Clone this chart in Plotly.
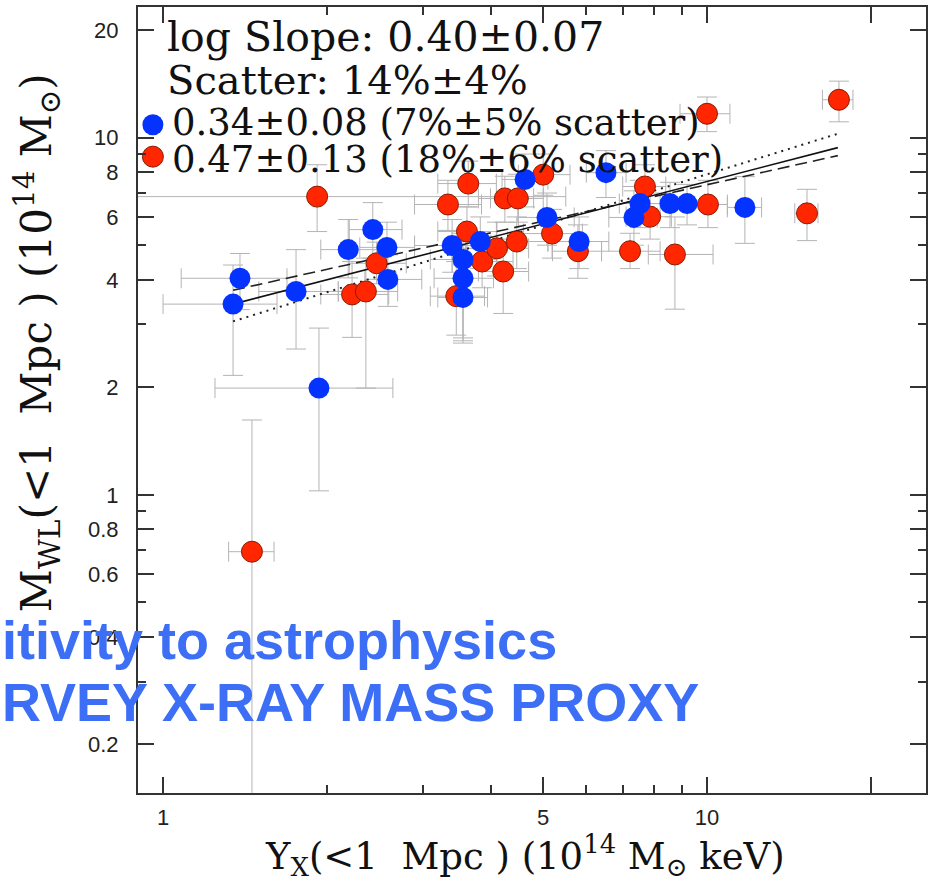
import plotly.graph_objects as go

# ---------------- data ----------------
blue_x   = [1.345, 1.385, 1.756, 1.935, 2.19, 2.43, 2.58, 2.59, 3.40, 3.56, 3.56, 3.56, 3.83, 4.63, 5.08, 5.82, 6.52, 7.34, 7.53, 8.55, 9.19, 11.74]
blue_y   = [3.42, 4.04, 3.71, 1.99, 4.86, 5.53, 4.93, 4.01, 4.99, 4.56, 4.04, 3.57, 5.12, 7.64, 5.98, 5.12, 7.98, 5.98, 6.54, 6.54, 6.54, 6.38]
blue_xlo = [1.00, 1.08, 1.50, 1.246, 1.95, 2.20, 2.30, 2.35, 2.90, 3.10, 3.15, 3.20, 3.40, 4.20, 4.50, 5.10, 6.00, 6.60, 6.90, 7.80, 8.50, 10.9]
blue_xhi = [1.62, 1.69, 2.10, 2.646, 2.50, 2.75, 2.90, 2.99, 4.00, 4.10, 4.05, 3.95, 4.30, 5.10, 5.70, 6.60, 7.10, 8.10, 8.20, 9.30, 9.90, 12.6]
blue_ylo = [2.16, 3.30, 2.56, 1.026, 4.05, 4.60, 4.20, 3.37, 4.20, 2.75, 2.70, 2.66, 4.30, 6.40, 5.00, 4.30, 6.80, 5.00, 5.60, 5.60, 5.70, 5.06]
blue_yhi = [4.40, 4.74, 4.86, 2.93, 5.90, 6.58, 5.80, 4.70, 5.90, 5.40, 4.90, 4.40, 6.00, 9.00, 7.00, 6.00, 9.20, 7.10, 7.60, 7.50, 7.40, 7.78]

red_x   = [1.457, 1.92, 2.226, 2.36, 2.47, 3.34, 3.64, 3.62, 3.46, 3.86, 4.11, 4.47, 4.22, 4.25, 4.49, 5.00, 5.19, 5.79, 7.69, 7.86, 7.22, 8.73, 10.04, 10.0, 15.27, 17.48]
red_y   = [0.693, 6.84, 3.64, 3.71, 4.45, 6.50, 7.44, 5.46, 3.60, 4.50, 4.90, 5.12, 4.22, 6.76, 6.76, 7.88, 5.39, 4.81, 7.30, 6.01, 4.81, 4.71, 6.50, 11.67, 6.14, 12.77]
red_xlo = [1.32, 0.70, 1.95, 2.10, 2.20, 2.90, 3.20, 3.20, 3.10, 3.40, 3.60, 3.90, 3.80, 3.80, 4.00, 4.50, 4.60, 5.20, 7.00, 7.10, 6.40, 7.80, 9.20, 8.92, 14.5, 16.3]
red_xhi = [1.60, 5.50, 2.60, 2.70, 2.80, 3.85, 4.10, 4.10, 3.90, 4.40, 4.70, 5.10, 4.70, 4.80, 5.00, 5.60, 5.90, 6.40, 8.40, 8.60, 8.20, 10.26, 10.9, 11.02, 16.0, 18.55]
red_ylo = [0.10, 5.46, 2.76, 1.99, 3.90, 5.50, 6.40, 4.60, 2.80, 3.80, 4.10, 4.30, 3.22, 5.80, 5.80, 6.90, 4.60, 4.04, 6.40, 5.20, 4.30, 3.31, 5.60, 10.4, 5.15, 11.08]
red_yhi = [1.62, 8.40, 4.50, 4.60, 5.10, 7.60, 8.60, 6.40, 4.50, 5.30, 5.80, 6.00, 5.20, 7.80, 7.90, 9.00, 6.30, 5.70, 8.40, 7.00, 5.40, 6.00, 7.60, 13.0, 7.17, 14.4]

fit_x    = [1.345, 17.4]
fit_all  = [3.42, 9.38]
fit_blue = [3.74, 8.91]
fit_red  = [3.06, 10.26]

key_x = [0.958]
key_blue_y = [10.87]
key_red_y = [8.85]

y_major = [0.2, 0.4, 0.6, 0.8, 1, 2, 4, 6, 8, 10, 20]
y_major_text = ["0.2", "0.4", "0.6", "0.8", "1", "2", "4", "6", "8", "10", "20"]
y_minor = [0.3, 0.5, 0.7, 0.9, 3, 5, 7, 9]
x_major = [1, 5, 10, 20]
x_major_text = ["1", "5", "10", " "]
x_minor = [2, 3, 4, 6, 7, 8, 9]

BLUE = "#0433ff"
RED = "#ff2600"
ERR = "#b4b4b4"


def plus_minus(v, lo, hi):
    return [h - a for a, h in zip(v, hi)], [a - l for a, l in zip(v, lo)]


fig = go.Figure()

# error bars (drawn below everything)
for xs, ys, xlo, xhi, ylo, yhi in [
    (red_x, red_y, red_xlo, red_xhi, red_ylo, red_yhi),
    (blue_x, blue_y, blue_xlo, blue_xhi, blue_ylo, blue_yhi),
]:
    px_, mx_ = plus_minus(xs, xlo, xhi)
    py_, my_ = plus_minus(ys, ylo, yhi)
    fig.add_trace(go.Scatter(
        x=xs, y=ys, mode="markers",
        marker=dict(size=1, opacity=0),
        error_x=dict(type="data", symmetric=False, array=px_, arrayminus=mx_,
                     color=ERR, thickness=1, width=10),
        error_y=dict(type="data", symmetric=False, array=py_, arrayminus=my_,
                     color=ERR, thickness=1, width=10),
        hoverinfo="skip", showlegend=False,
    ))

# fit lines
fig.add_trace(go.Scatter(x=fit_x, y=fit_red, mode="lines",
                         line=dict(color="#222", width=2, dash="2px,5px"), showlegend=False))
fig.add_trace(go.Scatter(x=fit_x, y=fit_blue, mode="lines",
                         line=dict(color="#222", width=1.6, dash="12px,6px"), showlegend=False))
fig.add_trace(go.Scatter(x=fit_x, y=fit_all, mode="lines",
                         line=dict(color="#111", width=1.6), showlegend=False))

# points
fig.add_trace(go.Scatter(x=red_x, y=red_y, mode="markers",
                         marker=dict(size=21, color=RED, line=dict(color="#8a1a00", width=1)),
                         showlegend=False))
fig.add_trace(go.Scatter(x=blue_x, y=blue_y, mode="markers",
                         marker=dict(size=21, color=BLUE, line=dict(color=BLUE, width=0)),
                         showlegend=False))

# key dots
fig.add_trace(go.Scatter(x=key_x, y=key_blue_y, mode="markers",
                         marker=dict(size=21, color=BLUE), showlegend=False, cliponaxis=False))
fig.add_trace(go.Scatter(x=key_x, y=key_red_y, mode="markers",
                         marker=dict(size=21, color=RED, line=dict(color="#8a1a00", width=1)),
                         showlegend=False, cliponaxis=False))

serif = "DejaVu Serif"
texts = [
    ("log Slope: 0.40±0.07", 165, 35, 41),
    ("Scatter: 14%±4%", 165, 78, 40),
    ("0.34±0.08 (7%±5% scatter)", 170, 121, 37),
    ("0.47±0.13 (18%±6% scatter)", 170, 158, 37),
]
W0, H0, PW, PH = 138, 5, 788, 788


def px2paper(x, y):
    return (x - W0) / PW, 1 - (y - H0) / PH


for t, xp, yp, fs in texts:
    ax, ay = px2paper(xp, yp)
    fig.add_annotation(text=t, x=ax, y=ay, xref="paper", yref="paper",
                       xanchor="left", yanchor="middle", showarrow=False,
                       font=dict(family=serif, size=fs, color="#111"))

# axis titles
ax, ay = px2paper(525, 856)
fig.add_annotation(text="Y<sub>X</sub>(<1  Mpc ) (10<sup>14</sup> M<sub>⊙</sub> keV)",
                   x=ax, y=ay, xref="paper", yref="paper", showarrow=False,
                   xanchor="center", yanchor="middle",
                   font=dict(family=serif, size=37, color="#111"))
ax, ay = px2paper(37, 342)
fig.add_annotation(text="M<sub>WL</sub>(<1  Mpc ) (10<sup>14</sup> M<sub>⊙</sub>)",
                   x=ax, y=ay, xref="paper", yref="paper", showarrow=False, textangle=-90,
                   xanchor="center", yanchor="middle",
                   font=dict(family=serif, size=42, color="#111"))

# overlay slide text
ov_font = dict(family="Liberation Sans", size=54, color="#3c6ff5", weight="bold")
ax, ay = px2paper(0, 640)
fig.add_annotation(text="itivity to astrophysics", x=ax, y=ay, xref="paper", yref="paper",
                   xanchor="left", yanchor="middle", showarrow=False, font=ov_font)
ax, ay = px2paper(0, 702)
fig.add_annotation(text="RVEY X-RAY MASS PROXY", x=ax, y=ay, xref="paper", yref="paper",
                   xanchor="left", yanchor="middle", showarrow=False, font=ov_font)

axis_common = dict(
    type="log", showgrid=False, zeroline=False,
    showline=True, linecolor="#333", linewidth=2, mirror="allticks",
    ticks="inside", ticklen=16, tickwidth=1.5, tickcolor="#333",
    tickfont=dict(family="Liberation Sans", size=22, color="#222"),
)
fig.update_xaxes(**axis_common, range=[-0.046, 1.4026],
                 tickmode="array", tickvals=x_major, ticktext=x_major_text,
                 ticklabelstandoff=4,
                 minor=dict(tickmode="array", tickvals=x_minor, ticks="inside",
                            ticklen=8, tickwidth=1.5, tickcolor="#333"))
fig.update_yaxes(**axis_common, range=[-0.835, 1.366],
                 tickmode="array", tickvals=y_major, ticktext=y_major_text,
                 ticklabelstandoff=13,
                 minor=dict(tickmode="array", tickvals=y_minor, ticks="inside",
                            ticklen=8, tickwidth=1.5, tickcolor="#333"))

fig.update_layout(width=933, height=892, margin=dict(l=138, r=7, t=5, b=99),
                  plot_bgcolor="white", paper_bgcolor="white", showlegend=False)

fig.write_html("out.html")
